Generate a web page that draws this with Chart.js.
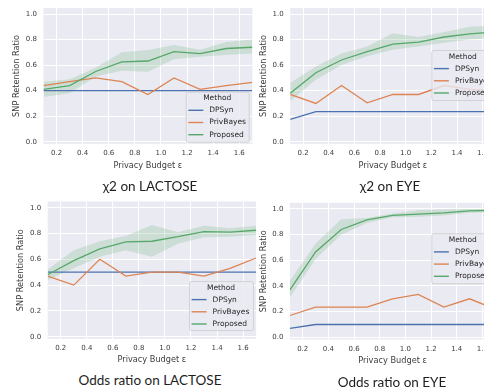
<!DOCTYPE html>
<html><head><meta charset="utf-8">
<script src="https://cdn.jsdelivr.net/npm/chart.js@4.4.1/dist/chart.umd.min.js"></script>
<style>
html,body{margin:0;padding:0;width:484px;height:390px;overflow:hidden;background:#fff;position:relative}
canvas{position:absolute}
.t{position:absolute;font-family:Lato,'Open Sans',sans-serif;font-size:13.5px;color:#1e1e1e;transform:translateX(-50%);white-space:nowrap;line-height:13.5px}
</style></head><body>
<canvas id="c0"></canvas><canvas id="c1"></canvas><canvas id="c2"></canvas><canvas id="c3"></canvas>
<div class="t" style="left:150px;top:180px">χ2 on LACTOSE</div>
<div class="t" style="left:390px;top:180px">χ2 on EYE</div>
<div class="t" style="left:150px;top:373.5px">Odds ratio on LACTOSE</div>
<div class="t" style="left:392px;top:376px">Odds ratio on EYE</div>
<script>
// ---- data ----
const epsilon = [0.1, 0.3, 0.5, 0.7, 0.9, 1.1, 1.3, 1.5, 1.7];
const xTicks = [0.2, 0.4, 0.6, 0.8, 1.0, 1.2, 1.4, 1.6];
const yTicks = [0.0, 0.2, 0.4, 0.6, 0.8, 1.0];
const methods = ['DPSyn', 'PrivBayes', 'Proposed'];
const panelTitles = ['χ2 on LACTOSE', 'χ2 on EYE', 'Odds ratio on LACTOSE', 'Odds ratio on EYE'];
const xLabel = 'Privacy Budget \u03b5';
const yLabel = 'SNP Retention Ratio';

// chi2 on LACTOSE
const chiLacDPSyn     = [0.40, 0.40, 0.40, 0.40, 0.40, 0.40, 0.40, 0.40, 0.40];
const chiLacPrivBayes = [0.44, 0.47, 0.50, 0.47, 0.37, 0.50, 0.41, 0.44, 0.465];
const chiLacProposed  = [0.41, 0.44, 0.55, 0.625, 0.632, 0.705, 0.69, 0.73, 0.74];
const chiLacLow       = [0.35, 0.38, 0.51, 0.555, 0.548, 0.645, 0.665, 0.68, 0.69];
const chiLacHigh      = [0.47, 0.49, 0.58, 0.70, 0.718, 0.757, 0.72, 0.78, 0.80];

// chi2 on EYE
const chiEyeDPSyn     = [0.175, 0.235, 0.235, 0.235, 0.235, 0.235, 0.235, 0.235, 0.235];
const chiEyePrivBayes = [0.37, 0.30, 0.44, 0.305, 0.37, 0.37, 0.44, 0.41, 0.40];
const chiEyeProposed  = [0.38, 0.54, 0.64, 0.706, 0.765, 0.78, 0.82, 0.845, 0.86];
const chiEyeLow       = [0.317, 0.486, 0.60, 0.67, 0.72, 0.745, 0.776, 0.80, 0.81];
const chiEyeHigh      = [0.46, 0.59, 0.69, 0.745, 0.85, 0.82, 0.86, 0.90, 0.91];

// Odds ratio on LACTOSE
const orLacDPSyn      = [0.50, 0.50, 0.50, 0.50, 0.50, 0.50, 0.50, 0.50, 0.50];
const orLacPrivBayes  = [0.47, 0.40, 0.60, 0.47, 0.50, 0.50, 0.47, 0.53, 0.61];
const orLacProposed   = [0.48, 0.59, 0.68, 0.735, 0.74, 0.775, 0.815, 0.81, 0.825];
const orLacLow        = [0.44, 0.53, 0.62, 0.67, 0.62, 0.72, 0.77, 0.775, 0.79];
const orLacHigh       = [0.52, 0.67, 0.74, 0.78, 0.866, 0.81, 0.86, 0.84, 0.86];

// Odds ratio on EYE
const orEyeDPSyn      = [0.07, 0.10, 0.10, 0.10, 0.10, 0.10, 0.10, 0.10, 0.10];
const orEyePrivBayes  = [0.17, 0.235, 0.235, 0.235, 0.30, 0.335, 0.235, 0.30, 0.22];
const orEyeProposed   = [0.37, 0.665, 0.84, 0.915, 0.95, 0.96, 0.97, 0.985, 0.99];
const orEyeLow        = [0.31, 0.61, 0.80, 0.89, 0.935, 0.94, 0.95, 0.97, 0.975];
const orEyeHigh       = [0.44, 0.73, 0.92, 0.93, 0.965, 0.99, 0.995, 1.0, 1.0];

// ---- style / layout ----
const COLORS = ['#4C72B0', '#DD8452', '#55A868'];
const BAND = 'rgba(85,168,104,0.2)';
const BG = '#EAEAF2';
const FONT = '"DejaVu Sans", sans-serif';
const TITLE_SIZE = 8.2, TICK_SIZE = 7, LEG_SIZE = 7.5;
const Y_MIN = -0.017, Y_MAX = 1.048;

const panels = [
  {id:'c0', cv:{l:0,t:0,w:262,h:182}, area:{l:43.5,r:252.3,t:7.9,b:143.9}, xTitleY:165.7, yTitleX:17, leg:{l:185.7,t:91.7,w:63,h:50},
   series:[chiLacDPSyn, chiLacPrivBayes, chiLacProposed], low:chiLacLow, high:chiLacHigh},
  {id:'c1', cv:{l:246,t:0,w:262,h:182}, area:{l:290.2,r:495.5,t:7.9,b:143.9}, xTitleY:165.7, yTitleX:263.7, leg:{l:431.3,t:50,w:63,h:50},
   series:[chiEyeDPSyn, chiEyePrivBayes, chiEyeProposed], low:chiEyeLow, high:chiEyeHigh},
  {id:'c2', cv:{l:0,t:190,w:266,h:182}, area:{l:47.7,r:256.1,t:201.5,b:338.9}, xTitleY:360.2, yTitleX:20.7, leg:{l:189,t:281,w:64,h:49},
   series:[orLacDPSyn, orLacPrivBayes, orLacProposed], low:orLacLow, high:orLacHigh},
  {id:'c3', cv:{l:246,t:190,w:262,h:182}, area:{l:289.9,r:495.2,t:202.8,b:339.5}, xTitleY:360.7, yTitleX:263.7, leg:{l:431.3,t:233.3,w:63,h:50},
   series:[orEyeDPSyn, orEyePrivBayes, orEyeProposed], low:orEyeLow, high:orEyeHigh},
];

const bgPlugin = {
  id:'bgArea',
  beforeDraw(chart){
    const a = chart.chartArea, ctx = chart.ctx;
    ctx.save(); ctx.fillStyle = BG; ctx.fillRect(a.left, a.top, a.right - a.left, a.bottom - a.top); ctx.restore();
  }
};

const legendPlugin = {
  id:'boxLegend',
  afterDatasetsDraw(chart, args, o){
    const ctx = chart.ctx;
    const {x, y, w, h} = o;
    ctx.save();
    ctx.beginPath();
    if (ctx.roundRect) ctx.roundRect(x + 0.5, y + 0.5, w, h, 2); else ctx.rect(x + 0.5, y + 0.5, w, h);
    ctx.fillStyle = 'rgba(234,234,242,0.8)';
    ctx.fill();
    ctx.lineWidth = 0.8; ctx.strokeStyle = '#cccccc'; ctx.stroke();
    ctx.fillStyle = '#262626';
    ctx.textBaseline = 'middle';
    ctx.font = LEG_SIZE + 'px ' + FONT;
    ctx.textAlign = 'center';
    ctx.fillText('Method', x + w / 2, y + 6.6);
    ctx.textAlign = 'left';
    const offs = [18.6, 30.8, 43];
    methods.forEach((m, i) => {
      const yy = y + offs[i];
      ctx.strokeStyle = COLORS[i]; ctx.lineWidth = 1.4;
      ctx.beginPath(); ctx.moveTo(x + 2.6, yy); ctx.lineTo(x + 17.6, yy); ctx.stroke();
      ctx.fillStyle = '#262626';
      ctx.fillText(m, x + 23.6, yy);
    });
    ctx.restore();
  }
};

function pts(arr){ return epsilon.map((e, i) => ({x: e, y: arr[i]})); }

panels.forEach((p, idx) => {
  const cv = document.getElementById(p.id);
  cv.width = p.cv.w; cv.height = p.cv.h;
  cv.style.left = p.cv.l + 'px'; cv.style.top = p.cv.t + 'px';
  cv.style.width = p.cv.w + 'px'; cv.style.height = p.cv.h + 'px';
  const lh = TITLE_SIZE * 1.2;
  const padLeft = p.yTitleX - lh / 2 - p.cv.l;
  const yWidth = p.area.l - p.cv.l - padLeft;
  const padTop = p.area.t - p.cv.t;
  const padRight = p.cv.l + p.cv.w - p.area.r;
  const xBottom = p.xTitleY + lh / 2;
  const padBottom = p.cv.t + p.cv.h - xBottom;
  const xHeight = xBottom - p.area.b;

  const datasets = [
    {label:'low', data:pts(p.low), borderWidth:0, borderColor:'transparent', pointRadius:0, fill:false, order:4},
    {label:'high', data:pts(p.high), borderWidth:0, borderColor:'transparent', pointRadius:0, fill:'-1', backgroundColor:BAND, order:3},
  ];
  p.series.forEach((s, i) => {
    datasets.push({label:methods[i], data:pts(s), borderColor:COLORS[i], backgroundColor:COLORS[i],
      borderWidth:1.3, pointRadius:0, fill:false, tension:0, order:2 - i});
  });

  new Chart(cv, {
    type:'line',
    data:{datasets},
    plugins:[bgPlugin, legendPlugin],
    options:{
      responsive:false, animation:false, devicePixelRatio:1,
      layout:{padding:{left:padLeft, top:padTop, right:padRight, bottom:padBottom}},
      plugins:{legend:{display:false}, tooltip:{enabled:false},
        boxLegend:{x:p.leg.l - p.cv.l, y:p.leg.t - p.cv.t, w:p.leg.w, h:p.leg.h}},
      scales:{
        x:{type:'linear', min:epsilon[0], max:epsilon[epsilon.length-1],
          afterBuildTicks(s){ s.ticks = xTicks.map(v => ({value:v})); },
          afterFit(s){ s.height = xHeight; s.paddingLeft = 0; s.paddingRight = 0; s.paddingTop = 0; s.paddingBottom = 0; },
          grid:{color:'#ffffff', lineWidth:1, drawTicks:false},
          border:{display:false},
          ticks:{padding:5.5, color:'#3c3c3c', font:{family:FONT, size:TICK_SIZE}, maxRotation:0, autoSkip:false,
            callback:v => v.toFixed(1)},
          title:{display:true, text:xLabel, color:'#3c3c3c', font:{family:FONT, size:TITLE_SIZE}, padding:0}
        },
        y:{type:'linear', min:Y_MIN, max:Y_MAX,
          afterBuildTicks(s){ s.ticks = yTicks.map(v => ({value:v})); },
          afterFit(s){ s.width = yWidth; s.paddingLeft = 0; s.paddingRight = 0; s.paddingTop = 0; s.paddingBottom = 0; },
          grid:{color:'#ffffff', lineWidth:1, drawTicks:false},
          border:{display:false},
          ticks:{padding:6.5, color:'#3c3c3c', font:{family:FONT, size:TICK_SIZE}, autoSkip:false,
            callback:v => v.toFixed(1)},
          title:{display:true, text:yLabel, color:'#3c3c3c', font:{family:FONT, size:TITLE_SIZE}, padding:0}
        }
      }
    }
  });
});
</script>
</body></html>
